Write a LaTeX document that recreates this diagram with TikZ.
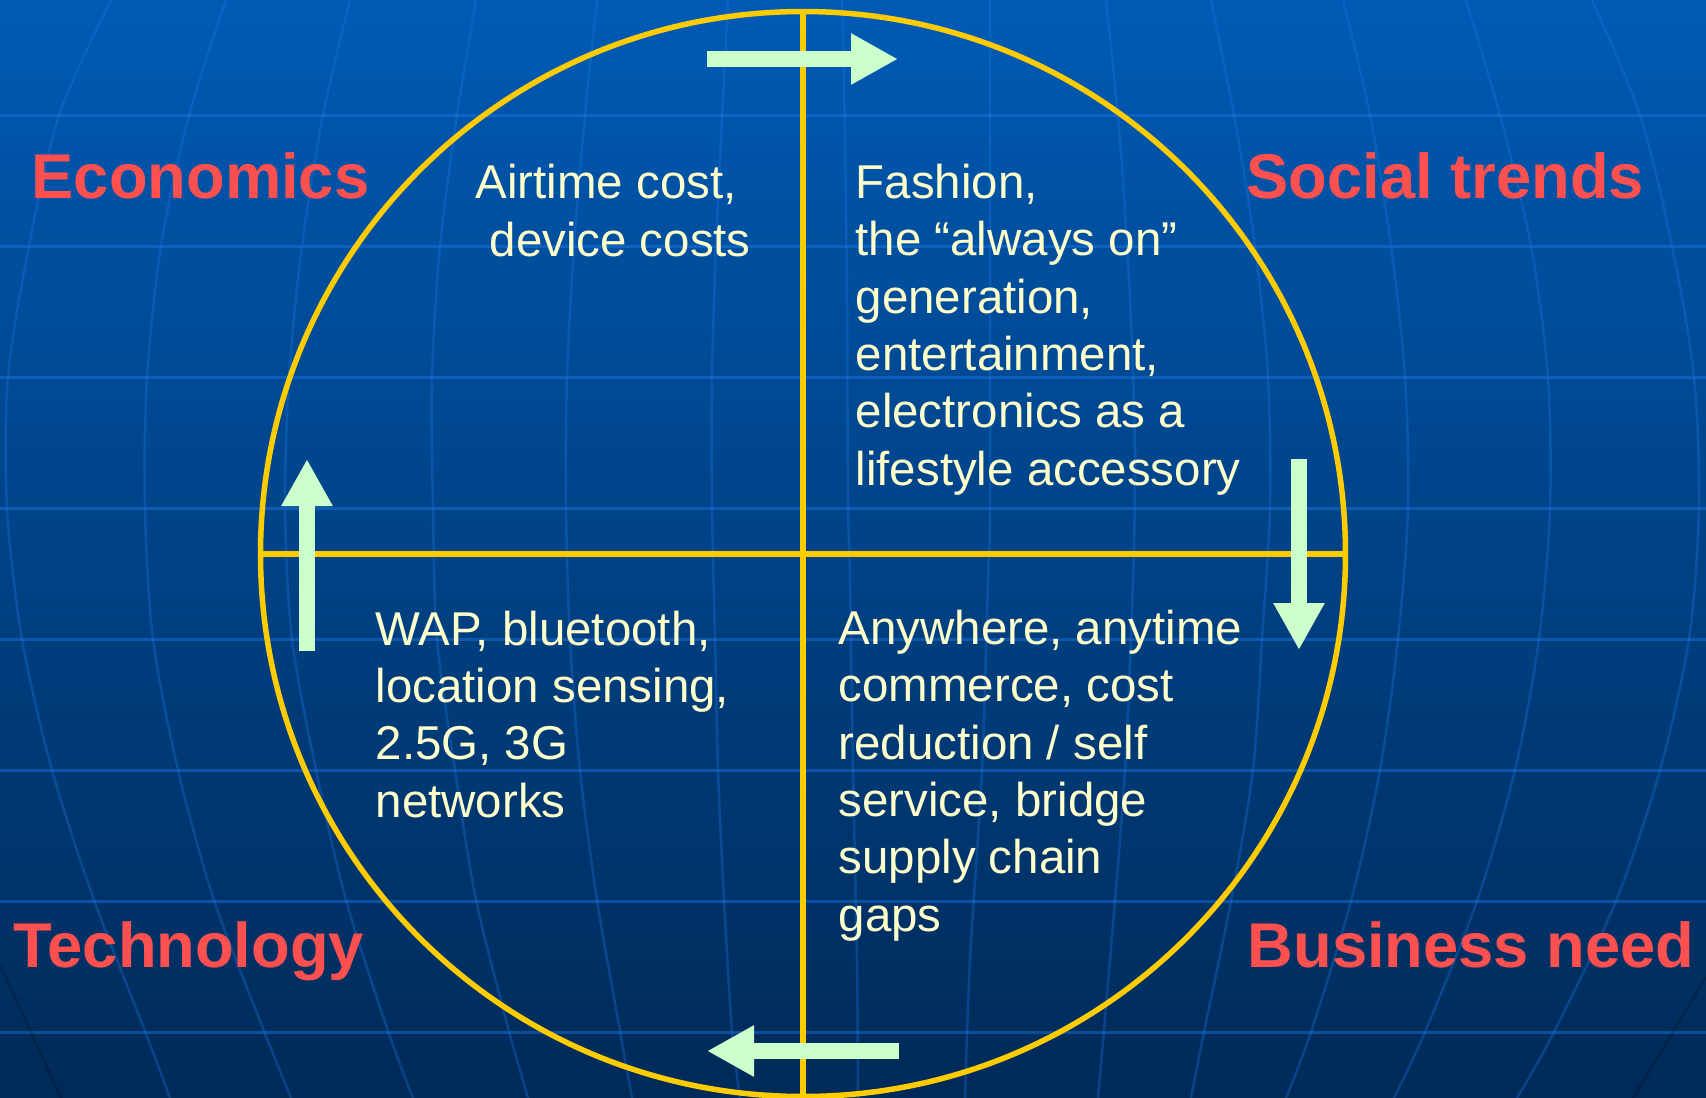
\documentclass[tikz,border=0pt]{standalone}
\usepackage{fontspec}
\setmainfont{Liberation Sans}
\usetikzlibrary{arrows.meta,positioning}

\definecolor{sky}{HTML}{005AB4}
\definecolor{deep}{HTML}{002A58}
\definecolor{gridblue}{HTML}{1E78E6}
\definecolor{gold}{HTML}{FFCC00}
\definecolor{mint}{HTML}{CCFFCC}
\definecolor{cream}{HTML}{FFFFCC}
\definecolor{coral}{HTML}{FF5050}

\begin{document}
\begin{tikzpicture}[x=0.1mm,y=-0.1mm]
  \tikzstyle{gridline}=[draw=gridblue,draw opacity=0.45,line width=0.3mm]
  \tikzstyle{meridian}=[draw=gridblue,draw opacity=0.32,line width=0.25mm]
  \tikzstyle{rim}=[draw=black,draw opacity=0.2,line width=0.25mm]
  \tikzstyle{driver}=[coral,font=\fontsize{18}{21.6}\selectfont\bfseries,anchor=base west,inner sep=0]
  % multi-line text: base is the baseline of the last line
  \tikzstyle{factor}=[cream,font=\fontsize{13.5}{16.3}\selectfont,align=left,anchor=base west,inner sep=0]
  \tikzstyle{cycle}=[mint,line width=1.6mm,-{Triangle[width=4.8mm,length=4.7mm]}]
  \tikzstyle{axis}=[gold,line width=0.6mm]

  % background globe
  \shade[top color=sky,bottom color=deep] (0,0) rectangle (1706,1098);
  \useasboundingbox (0,0) rectangle (1706,1098);
  \begin{scope}
    \clip (0,0) rectangle (1706,1098);
    \foreach \y in {115,246,...,1032}
      \draw[gridline] (0,\y) -- (1706,\y);
    \draw[meridian] plot[smooth] coordinates {(111,0) (59,115) (29,246) (8,377) (7,508) (22,639) (52,770) (94,900) (145,1031) (170,1098)};
    \draw[meridian] plot[smooth] coordinates {(226,0) (189,115) (161,246) (147,377) (145,508) (153,639) (178,770) (214,900) (264,1031) (291,1098)};
    \draw[meridian] plot[smooth] coordinates {(350,0) (323,115) (302,246) (289,377) (285,508) (292,639) (316,770) (346,900) (388,1031) (413,1098)};
    \draw[meridian] plot[smooth] coordinates {(476,0) (457,115) (440,246) (432,377) (433,508) (437,639) (455,770) (476,900) (509,1031) (528,1098)};
    \draw[meridian] plot[smooth] coordinates {(597,0) (585,115) (574,246) (567,377) (566,508) (570,639) (580,770) (597,900) (620,1031) (632,1098)};
    \draw[meridian] plot[smooth] coordinates {(728,0) (722,120) (716,246) (712,377) (712,508) (715,639) (718,770) (724,900) (732,1031) (740,1098)};
    \draw[meridian] plot[smooth] coordinates {(842,0) (845,140) (847,300) (848,500) (850,580) (853,770) (857,960) (858,1098)};
    \draw[meridian] plot[smooth] coordinates {(990,0) (990,140) (990,500) (988,580) (982,770) (970,960) (965,1098)};
    \draw[meridian] plot[smooth] coordinates {(1106,0) (1120,140) (1130,300) (1135,450) (1133,580) (1125,770) (1110,960) (1098,1098)};
    \draw[meridian] plot[smooth] coordinates {(1211,0) (1234,115) (1255,246) (1268,377) (1270,508) (1262,639) (1253,770) (1231,901) (1204,1032) (1191,1098)};
    \draw[meridian] plot[smooth] coordinates {(1343,0) (1370,115) (1391,246) (1405,377) (1408,508) (1398,639) (1380,770) (1351,901) (1311,1032) (1286,1098)};
    \draw[meridian] plot[smooth] coordinates {(1466,0) (1500,115) (1531,246) (1548,377) (1550,508) (1539,639) (1515,770) (1477,901) (1425,1032) (1394,1098)};
    \draw[meridian] plot[smooth] coordinates {(1592,0) (1640,115) (1672,246) (1694,377) (1699,508) (1689,639) (1660,770) (1616,901) (1554,1032) (1517,1098)};
    \draw[rim] plot[smooth] coordinates {(0,965) (30,1030) (61,1098)};
    \draw[rim] plot[smooth] coordinates {(1706,977) (1668,1040) (1633,1098)};
  \end{scope}

  % the ring and its quadrants
  \node[draw=gold,line width=0.55mm,circle,minimum size=108.5mm,inner sep=0,outer sep=0] (ring) at (803,554) {};
  \draw[axis] (ring.north) -- (ring.south);
  \draw[axis] (ring.west) -- (ring.east);

  % arrows round the cycle
  \coordinate (topL) at (707,59);   \coordinate (topR) at (898,59);
  \coordinate (rgtT) at (1299,459); \coordinate (rgtB) at (1299,650);
  \coordinate (botR) at (899,1051); \coordinate (botL) at (707,1051);
  \coordinate (lftB) at (307,651);  \coordinate (lftT) at (307,459);
  \draw[cycle] (topL) -- (topR);
  \draw[cycle] (rgtT) -- (rgtB);
  \draw[cycle] (botR) -- (botL);
  \draw[cycle] (lftB) -- (lftT);

  % the four drivers
  \node[driver] (econ) at (31,198) {Economics};
  \node[driver] (social) at (1246,198) {Social trends};
  \node[driver] (tech) at (13,967) {Technology};
  \node[driver] (business) at (1247,967) {Business need};

  % what each one stands for
  \node[factor] (costs) at (475,256) {Airtime cost,\\\hspace*{1.4mm}device costs};
  \node[factor] (fashion) at (855,485) {Fashion,\\the “always on”\\generation,\\entertainment,\\electronics as a\\lifestyle accessory};
  \node[factor] (wap) at (375,817) {WAP, bluetooth,\\location sensing,\\2.5G, 3G\\networks};
  \node[factor] (anywhere) at (838,931) {Anywhere, anytime\\commerce, cost\\reduction / self\\service, bridge\\supply chain\\gaps};
\end{tikzpicture}
\end{document}
